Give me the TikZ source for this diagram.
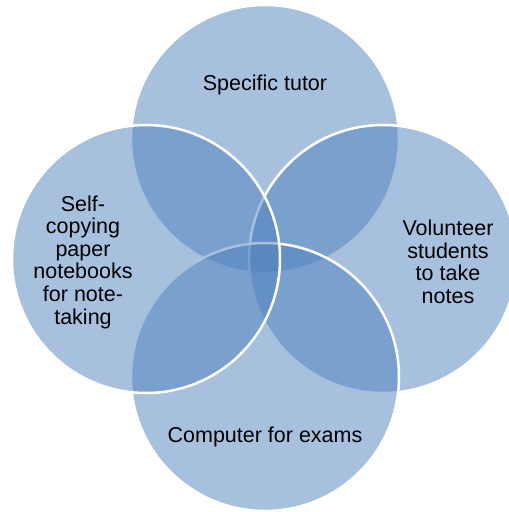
\documentclass[tikz,border=0pt]{standalone}
\usepackage{fontspec}
\setmainfont{Liberation Sans}
\usetikzlibrary{positioning}
\definecolor{vennblue}{RGB}{79,129,189}
\tikzset{
      vennset/.style={
        circle,
        draw=white,
        line width=2.5pt,
        fill=vennblue,
        fill opacity=0.5,
        minimum size=268pt,
        inner sep=0pt
      },
      venntext/.style={
        align=center,
        text=black,
        font=\fontsize{21.5}{22.6}\selectfont
      }
    }

\begin{document}
\begin{tikzpicture}[x=1pt,y=-1pt]
    \useasboundingbox (0,0) rectangle (509,512);
    \node[vennset] (s0) at (265,139) {};
    \node[vennset] (s1) at (383,259) {};
    \node[vennset] (s2) at (265,377) {};
    \node[vennset] (s3) at (146,259) {};
    \node[venntext] (t0) at (265,85) {Specific tutor};
    \node[venntext] (t1) at (448,262) {Volunteer\\students\\to take\\notes};
    \node[venntext] (t2) at (265,437) {Computer for exams};
    \node[venntext] (t3) at (83,262) {Self-\\copying\\paper\\notebooks\\for note-\\taking};
    \end{tikzpicture}
\end{document}
